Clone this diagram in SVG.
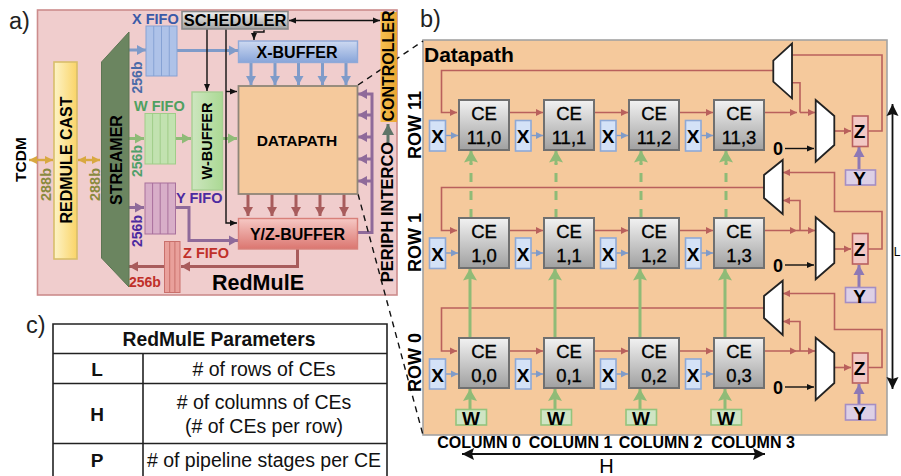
<svg xmlns="http://www.w3.org/2000/svg" width="901" height="476" viewBox="0 0 901 476">
<style>
text{font-family:"Liberation Sans",Arial,sans-serif;fill:#000}
.b{font-weight:bold}
.m{text-anchor:middle}
.ce{fill:url(#gCE);stroke:#707070;stroke-width:2}
.ct{font-size:18.5px;text-anchor:middle;stroke:#000;stroke-width:.35}
.x{fill:#d4e2f7;stroke:#8ea9d6;stroke-width:1.6}
.w{fill:#cfe5c4;stroke:#93c47d;stroke-width:1.6}
.y{fill:#ddd0e6;stroke:#a48ec4;stroke-width:1.6}
.z{fill:#f2c8c4;stroke:#b86060;stroke-width:1.6}
.lt{font-weight:bold;font-size:19px;text-anchor:middle}
.mux{fill:#fff;stroke:#222;stroke-width:1.8}
.r{stroke:#b9605c;stroke-width:1.6;fill:none}
.rb{stroke:#a85c5c;stroke-width:3;fill:none}
.bl{stroke:#7f9bc9;stroke-width:1.4;fill:none}
.bb{stroke:#7f9bc9;stroke-width:3;fill:none}
.gb{stroke:#8fbb77;stroke-width:3;fill:none}
.gd{stroke:#8fbb77;stroke-width:3;fill:none;stroke-dasharray:9 9}
.pb{stroke:#8f6a9a;stroke-width:3;fill:none}
.py{stroke:#8d78b5;stroke-width:3;fill:none}
.k{stroke:#111;stroke-width:1.4;fill:none}
.kb{stroke:#111;stroke-width:1.8;fill:none}
.yl{stroke:#d9a840;stroke-width:2.4;fill:none}
.ds{stroke:#111;stroke-width:1.4;fill:none;stroke-dasharray:6 5}
.tb{fill:none;stroke:#222;stroke-width:1.6}
.tt{font-size:19.5px;text-anchor:middle;fill:#111}
.tk{font-weight:bold;font-size:19px;text-anchor:middle;fill:#111}
.col{font-weight:bold;font-size:16px;text-anchor:middle}
.row{font-weight:bold;font-size:18px;text-anchor:middle}
.pl{font-size:23.5px;fill:#222}
</style>
<defs>
<linearGradient id="gCE" x1="0" y1="0" x2="0" y2="1"><stop offset="0" stop-color="#f2f2f2"/><stop offset="1" stop-color="#a0a0a0"/></linearGradient>
<linearGradient id="gCast" x1="0" y1="0" x2="1" y2="0"><stop offset="0" stop-color="#fdf3c6"/><stop offset="1" stop-color="#fad468"/></linearGradient>
<linearGradient id="gXB" x1="0" y1="0" x2="0" y2="1"><stop offset="0" stop-color="#cdd9f1"/><stop offset="1" stop-color="#88a5d9"/></linearGradient>
<linearGradient id="gYB" x1="0" y1="0" x2="0" y2="1"><stop offset="0" stop-color="#f6c8c4"/><stop offset="1" stop-color="#db7670"/></linearGradient>
<linearGradient id="gWB" x1="0" y1="0" x2="1" y2="0"><stop offset="0" stop-color="#cde6bf"/><stop offset="1" stop-color="#abd994"/></linearGradient>
<linearGradient id="gCtl" x1="0" y1="0" x2="1" y2="0"><stop offset="0" stop-color="#f7c04f"/><stop offset="1" stop-color="#eaa532"/></linearGradient>
<marker id="mr" markerUnits="userSpaceOnUse" markerWidth="8" markerHeight="8" refX="7" refY="4" orient="auto"><path d="M0 .5L7 4L0 7.5Z" fill="#b9605c"/></marker>
<marker id="mbl" markerUnits="userSpaceOnUse" markerWidth="8" markerHeight="8" refX="7" refY="4" orient="auto"><path d="M0 .5L7 4L0 7.5Z" fill="#7f9bc9"/></marker>
<marker id="mk" markerUnits="userSpaceOnUse" markerWidth="8" markerHeight="8" refX="7" refY="4" orient="auto-start-reverse"><path d="M0 1L7 4L0 7Z" fill="#111"/></marker>
<marker id="mkb" markerUnits="userSpaceOnUse" markerWidth="14" markerHeight="14" refX="12" refY="7" orient="auto-start-reverse"><path d="M0 1L12 7L0 13L2 7Z" fill="#111"/></marker>
<marker id="my" markerUnits="userSpaceOnUse" markerWidth="9" markerHeight="9" refX="8" refY="4.5" orient="auto-start-reverse"><path d="M0 .5L8 4.5L0 8.5Z" fill="#d9a840"/></marker>
<marker id="mbb" markerUnits="userSpaceOnUse" markerWidth="10" markerHeight="12" refX="9" refY="6" orient="auto"><path d="M0 1L9 6L0 11Z" fill="#7f9bc9"/></marker>
<marker id="mrb" markerUnits="userSpaceOnUse" markerWidth="10" markerHeight="12" refX="9" refY="6" orient="auto"><path d="M0 1L9 6L0 11Z" fill="#a85c5c"/></marker>
<marker id="mgb" markerUnits="userSpaceOnUse" markerWidth="10" markerHeight="12" refX="9" refY="6" orient="auto"><path d="M0 1L9 6L0 11Z" fill="#8fbb77"/></marker>
<marker id="mpb" markerUnits="userSpaceOnUse" markerWidth="10" markerHeight="12" refX="9" refY="6" orient="auto"><path d="M0 1L9 6L0 11Z" fill="#8f6a9a"/></marker>
<marker id="mpy" markerUnits="userSpaceOnUse" markerWidth="11" markerHeight="12" refX="10" refY="6" orient="auto"><path d="M0 .5L10 6L0 11.5Z" fill="#8d78b5"/></marker>
<marker id="mgy" markerUnits="userSpaceOnUse" markerWidth="12" markerHeight="13" refX="11" refY="6.5" orient="auto"><path d="M0 .5L11 6.5L0 12.5Z" fill="#5f7468"/></marker>
<marker id="mgg" markerUnits="userSpaceOnUse" markerWidth="13" markerHeight="15" refX="12" refY="7.5" orient="auto"><path d="M0 .5L12 7.5L0 14.5L2 7.5Z" fill="#8fbb77"/></marker>
</defs>

<rect id="panel-a" x="37.5" y="10" width="359.5" height="285" fill="#f0cdcd" stroke="#cc8c8c" stroke-width="1.6"/>
<rect id="panel-b" x="423" y="40" width="464" height="395" fill="#f5c99c" stroke="#a3a3a3" stroke-width="1.6"/>

<g id="connectors">
<path class="yl" d="M29 160H53" marker-start="url(#my)" marker-end="url(#my)"/>
<path class="yl" d="M78 160H100" marker-start="url(#my)" marker-end="url(#my)"/>
<path class="bb" d="M129 50H146" marker-end="url(#mbb)"/>
<path class="bb" d="M177 50.5H238" marker-end="url(#mbb)"/>
<path class="gb" d="M129 138.5H144" marker-end="url(#mgb)"/>
<path class="gb" d="M176 138.5H191" marker-end="url(#mgb)"/>
<path class="gb" d="M222 138.5H237" marker-end="url(#mgb)"/>
<path class="pb" d="M129 207.5H144" marker-end="url(#mpb)"/>
<path class="pb" d="M176 207.5H189V240.5H238" marker-end="url(#mpb)"/>
<path class="rb" d="M297.5 249V266.5H181" marker-end="url(#mrb)"/>
<path class="rb" d="M164 266.5H129" marker-end="url(#mrb)"/>
<path class="pb" d="M358 232.5H372V94H358" marker-end="url(#mpb)"/>
<path class="pb" d="M372 115H358" marker-end="url(#mpb)"/>
<path class="pb" d="M372 137H358" marker-end="url(#mpb)"/>
<path class="pb" d="M372 159H358" marker-end="url(#mpb)"/>
<path class="pb" d="M372 181H358" marker-end="url(#mpb)"/>
<path class="rb" d="M248 194V216" marker-end="url(#mrb)"/>
<path class="rb" d="M272 194V216" marker-end="url(#mrb)"/>
<path class="rb" d="M296 194V216" marker-end="url(#mrb)"/>
<path class="rb" d="M320 194V216" marker-end="url(#mrb)"/>
<path class="rb" d="M344 194V216" marker-end="url(#mrb)"/>
<path class="bb" d="M251 62V85" marker-end="url(#mbb)"/>
<path class="bb" d="M275 62V85" marker-end="url(#mbb)"/>
<path class="bb" d="M298.5 62V85" marker-end="url(#mbb)"/>
<path class="bb" d="M322.5 62V85" marker-end="url(#mbb)"/>
<path class="bb" d="M346 62V85" marker-end="url(#mbb)"/>
<path class="k" d="M207 29V91" marker-end="url(#mk)"/>
<path class="k" d="M226 29V223H237" marker-end="url(#mk)"/>
<path class="k" d="M226 91.5H237" marker-end="url(#mk)"/>
<path class="k" d="M264 29.5V32H254V40" marker-end="url(#mk)"/>
<path class="k" d="M289 20.5H380" marker-start="url(#mk)" marker-end="url(#mk)"/>
<path d="M388 144V124" stroke="#5f7468" stroke-width="3" fill="none" marker-end="url(#mgy)"/>
<path class="ds" d="M358 85L423 41"/>
<path class="ds" d="M358 194L423 435"/>

<path class="r" d="M773 70.5H441.5V112.5H457" marker-end="url(#mr)"/>
<path class="r" d="M509.5 112.5H543" marker-end="url(#mr)"/>
<path class="r" d="M594.5 112.5H628" marker-end="url(#mr)"/>
<path class="r" d="M679.5 112.5H713" marker-end="url(#mr)"/>
<path class="r" d="M764 112.5H797" marker-end="url(#mr)"/>
<path class="r" d="M800 112.5H815" marker-end="url(#mr)"/>
<path class="r" d="M800 112.5V82.7H792"/>
<path class="r" d="M834.5 131H851" marker-end="url(#mr)"/>
<path class="r" d="M868 131H882V55H792"/>

<path class="r" d="M764 187.5H441.5V230.5H457" marker-end="url(#mr)"/>
<path class="r" d="M509.5 230.5H543" marker-end="url(#mr)"/>
<path class="r" d="M594.5 230.5H628" marker-end="url(#mr)"/>
<path class="r" d="M679.5 230.5H713" marker-end="url(#mr)"/>
<path class="r" d="M764 230.5H797" marker-end="url(#mr)"/>
<path class="r" d="M797 230.5H815" marker-end="url(#mr)"/>
<path class="r" d="M800 230.5V200.5H783" marker-end="url(#mr)"/>
<path class="r" d="M834.5 249H851" marker-end="url(#mr)"/>
<path class="r" d="M868 249H882V211.5H834.5V172.5H783" marker-end="url(#mr)"/>

<path class="r" d="M764 308H441.5V351H457" marker-end="url(#mr)"/>
<path class="r" d="M509.5 351H543" marker-end="url(#mr)"/>
<path class="r" d="M594.5 351H628" marker-end="url(#mr)"/>
<path class="r" d="M679.5 351H713" marker-end="url(#mr)"/>
<path class="r" d="M764 351H797" marker-end="url(#mr)"/>
<path class="r" d="M797 351H815" marker-end="url(#mr)"/>
<path class="r" d="M800 351V321.5H783" marker-end="url(#mr)"/>
<path class="r" d="M834.5 367.5H851" marker-end="url(#mr)"/>
<path class="r" d="M868 367.5H882V329.5H834.5V293.5H783" marker-end="url(#mr)"/>

<path class="bl" d="M446 135.5H458" marker-end="url(#mbl)"/>
<path class="bl" d="M531 135.5H543" marker-end="url(#mbl)"/>
<path class="bl" d="M616 135.5H628" marker-end="url(#mbl)"/>
<path class="bl" d="M701 135.5H713" marker-end="url(#mbl)"/>
<path class="bl" d="M446 253H458" marker-end="url(#mbl)"/>
<path class="bl" d="M531 253H543" marker-end="url(#mbl)"/>
<path class="bl" d="M616 253H628" marker-end="url(#mbl)"/>
<path class="bl" d="M701 253H713" marker-end="url(#mbl)"/>
<path class="bl" d="M446 374H458" marker-end="url(#mbl)"/>
<path class="bl" d="M531 374H543" marker-end="url(#mbl)"/>
<path class="bl" d="M616 374H628" marker-end="url(#mbl)"/>
<path class="bl" d="M701 374H713" marker-end="url(#mbl)"/>

<path class="gb" d="M470 409V389" marker-end="url(#mgg)"/>
<path class="gb" d="M555 409V389" marker-end="url(#mgg)"/>
<path class="gb" d="M640 409V389" marker-end="url(#mgg)"/>
<path class="gb" d="M725 409V389" marker-end="url(#mgg)"/>
<path class="gb" d="M470 338V268.5" marker-end="url(#mgg)"/>
<path class="gb" d="M555 338V268.5" marker-end="url(#mgg)"/>
<path class="gb" d="M640 338V268.5" marker-end="url(#mgg)"/>
<path class="gb" d="M725 338V268.5" marker-end="url(#mgg)"/>
<path class="gd" d="M471 218V163"/><path class="gd" d="M556 218V163"/><path class="gd" d="M641 218V163"/><path class="gd" d="M726 218V163"/>
<path class="gb" d="M471 165V150.5" marker-end="url(#mgg)"/>
<path class="gb" d="M556 165V150.5" marker-end="url(#mgg)"/>
<path class="gb" d="M641 165V150.5" marker-end="url(#mgg)"/>
<path class="gb" d="M726 165V150.5" marker-end="url(#mgg)"/>

<path class="k" d="M785 148.5H814" marker-end="url(#mk)"/>
<path class="k" d="M785 265H814" marker-end="url(#mk)"/>
<path class="k" d="M785 387H814" marker-end="url(#mk)"/>
<path class="py" d="M859 169V147" marker-end="url(#mpy)"/>
<path class="py" d="M859 287V265" marker-end="url(#mpy)"/>
<path class="py" d="M859 404V384" marker-end="url(#mpy)"/>
<path class="kb" d="M892.5 104V389" marker-start="url(#mkb)" marker-end="url(#mkb)"/>
<path class="kb" d="M462 454H765" marker-start="url(#mkb)" marker-end="url(#mkb)"/>
</g>

<g id="redmule-cast"><rect x="54" y="62" width="23" height="197" fill="url(#gCast)" stroke="#d9be6b" stroke-width="1.6"/><text class="b m" font-size="16" transform="translate(72 160) rotate(-90)">REDMULE CAST</text></g>
<g id="streamer"><polygon points="101.5,62 129,32 129,287 101.5,258" fill="#6b8560" stroke="#5d7553"/><text class="b m" font-size="16" transform="translate(121.5 160) rotate(-90)">STREAMER</text></g>
<g id="x-fifo"><rect x="146" y="26" width="31" height="50" fill="#aec2e8" stroke="#86a2d4"/><path d="M153.75 26V76M161.5 26V76M169.25 26V76" stroke="#86a2d4" fill="none"/></g>
<g id="w-fifo"><rect x="145" y="113.5" width="30.5" height="50.5" fill="#c2e2b0" stroke="#a0cd88"/><path d="M152.6 113.5V164M160.2 113.5V164M167.9 113.5V164" stroke="#a0cd88" fill="none"/></g>
<g id="y-fifo"><rect x="145" y="183" width="30.5" height="51" fill="#d8aec8" stroke="#a8709c"/><path d="M152.6 183V234M160.2 183V234M167.9 183V234" stroke="#a8709c" fill="none"/></g>
<g id="z-fifo"><rect x="164.5" y="241.5" width="15.5" height="51" fill="#e9a09b" stroke="#c9706c"/><path d="M169.7 241.5V292.5M174.9 241.5V292.5" stroke="#c9706c" fill="none"/></g>
<g id="scheduler"><rect x="182" y="11.5" width="106" height="17.5" fill="url(#gCE)" stroke="#8a8a8a" stroke-width="1.6"/><text class="b m" x="235" y="26" font-size="16.5">SCHEDULER</text></g>
<g id="x-buffer"><rect x="238.5" y="41" width="119" height="21.5" fill="url(#gXB)" stroke="#8fa9d8" stroke-width="1.4"/><text class="b m" x="297" y="57.5" font-size="16">X-BUFFER</text></g>
<g id="w-buffer"><rect x="192" y="92" width="30.5" height="98" fill="url(#gWB)" stroke="#a7cf93" stroke-width="1.4"/><text class="b m" font-size="14.5" transform="translate(212 141) rotate(-90)">W-BUFFER</text></g>
<g id="datapath"><rect x="238.5" y="86" width="119" height="108" fill="#f5c99c" stroke="#8f8678" stroke-width="1.8"/><text class="b m" x="297" y="146" font-size="15.5">DATAPATH</text></g>
<g id="yz-buffer"><rect x="238.5" y="218.5" width="119" height="30.5" fill="url(#gYB)" stroke="#d8807a" stroke-width="1.4"/><text class="b m" x="297.5" y="240" font-size="16">Y/Z-BUFFER</text></g>
<g id="controller"><rect x="380.5" y="12" width="16.5" height="110" fill="url(#gCtl)"/><text class="b m" font-size="16" transform="translate(394 66) rotate(-90)">CONTROLLER</text></g>
<g id="periph-interco"><text class="b m" font-size="16.5" transform="translate(393 212) rotate(-90)">PERIPH INTERCO</text></g>

<g id="a-labels">
<text class="pl" x="9" y="29">a)</text>
<text class="b m" font-size="15.5" transform="translate(26 159.5) rotate(-90)">TCDM</text>
<text class="b m" font-size="14.5" style="fill:#8a8a3f" transform="translate(50.5 184.5) rotate(-90)">288b</text>
<text class="b m" font-size="14.5" style="fill:#8a8a3f" transform="translate(100 184.5) rotate(-90)">288b</text>
<text class="b m" font-size="14" style="fill:#4a6aa8" transform="translate(142 77.5) rotate(-90)">256b</text>
<text class="b m" font-size="14" style="fill:#4fa06a" transform="translate(142 161) rotate(-90)">256b</text>
<text class="b m" font-size="14" style="fill:#4b2aa0" transform="translate(142 231) rotate(-90)">256b</text>
<text class="b" x="129" y="287" font-size="14" style="fill:#c0302a">256b</text>
<text class="b" x="132" y="24" font-size="14.5" style="fill:#3a5aa8">X FIFO</text>
<text class="b" x="134" y="111" font-size="14.5" style="fill:#4fa060">W FIFO</text>
<text class="b" x="176" y="203" font-size="14.5" style="fill:#4b2aa0">Y FIFO</text>
<text class="b" x="183" y="258" font-size="14.5" style="fill:#c0302a">Z FIFO</text>
<text class="b" x="212" y="289.5" font-size="21.5">RedMulE</text>
</g>

<g id="b-labels">
<text class="pl" x="420" y="27">b)</text>
<text class="b" x="424" y="61.5" font-size="21">Datapath</text>
<text class="row" transform="translate(420.5 125) rotate(-90)">ROW 11</text>
<text class="row" transform="translate(420.5 242.5) rotate(-90)">ROW 1</text>
<text class="row" transform="translate(420.5 362.5) rotate(-90)">ROW 0</text>
<text class="col" x="479" y="448">COLUMN 0</text>
<text class="col" x="570.5" y="448">COLUMN 1</text>
<text class="col" x="660.5" y="448">COLUMN 2</text>
<text class="col" x="753" y="448">COLUMN 3</text>
<text class="m" x="606.5" y="473" font-size="20">H</text>
<text x="893.8" y="256" font-size="12">L</text>
<text class="b m" x="778" y="155" font-size="18">0</text>
<text class="b m" x="778" y="271.5" font-size="18">0</text>
<text class="b m" x="778" y="393.5" font-size="18">0</text>
</g>

<g id="ce-11-0"><rect class="ce" x="459" y="100" width="50" height="50"/><text class="ct" x="484" y="120">CE</text><text class="ct" x="484" y="144">11,0</text></g>
<g id="ce-11-1"><rect class="ce" x="544" y="100" width="50" height="50"/><text class="ct" x="569" y="120">CE</text><text class="ct" x="569" y="144">11,1</text></g>
<g id="ce-11-2"><rect class="ce" x="629" y="100" width="50" height="50"/><text class="ct" x="654" y="120">CE</text><text class="ct" x="654" y="144">11,2</text></g>
<g id="ce-11-3"><rect class="ce" x="714" y="100" width="50" height="50"/><text class="ct" x="739" y="120">CE</text><text class="ct" x="739" y="144">11,3</text></g>
<g id="ce-1-0"><rect class="ce" x="459" y="218" width="50" height="50"/><text class="ct" x="484" y="238">CE</text><text class="ct" x="484" y="262">1,0</text></g>
<g id="ce-1-1"><rect class="ce" x="544" y="218" width="50" height="50"/><text class="ct" x="569" y="238">CE</text><text class="ct" x="569" y="262">1,1</text></g>
<g id="ce-1-2"><rect class="ce" x="629" y="218" width="50" height="50"/><text class="ct" x="654" y="238">CE</text><text class="ct" x="654" y="262">1,2</text></g>
<g id="ce-1-3"><rect class="ce" x="714" y="218" width="50" height="50"/><text class="ct" x="739" y="238">CE</text><text class="ct" x="739" y="262">1,3</text></g>
<g id="ce-0-0"><rect class="ce" x="459" y="338" width="50" height="50"/><text class="ct" x="484" y="358">CE</text><text class="ct" x="484" y="382">0,0</text></g>
<g id="ce-0-1"><rect class="ce" x="544" y="338" width="50" height="50"/><text class="ct" x="569" y="358">CE</text><text class="ct" x="569" y="382">0,1</text></g>
<g id="ce-0-2"><rect class="ce" x="629" y="338" width="50" height="50"/><text class="ct" x="654" y="358">CE</text><text class="ct" x="654" y="382">0,2</text></g>
<g id="ce-0-3"><rect class="ce" x="714" y="338" width="50" height="50"/><text class="ct" x="739" y="358">CE</text><text class="ct" x="739" y="382">0,3</text></g>

<g id="x-11-0"><rect class="x" x="429.5" y="120.5" width="16" height="30.5"/><text class="lt" x="437.5" y="143">X</text></g>
<g id="x-11-1"><rect class="x" x="515.5" y="120.5" width="15.5" height="30.5"/><text class="lt" x="523" y="143">X</text></g>
<g id="x-11-2"><rect class="x" x="600.5" y="120.5" width="15.5" height="30.5"/><text class="lt" x="608" y="143">X</text></g>
<g id="x-11-3"><rect class="x" x="685.5" y="120.5" width="15.5" height="30.5"/><text class="lt" x="693" y="143">X</text></g>
<g id="x-1-0"><rect class="x" x="429.5" y="238" width="16" height="30.5"/><text class="lt" x="437.5" y="260.5">X</text></g>
<g id="x-1-1"><rect class="x" x="515.5" y="238" width="15.5" height="30.5"/><text class="lt" x="523" y="260.5">X</text></g>
<g id="x-1-2"><rect class="x" x="600.5" y="238" width="15.5" height="30.5"/><text class="lt" x="608" y="260.5">X</text></g>
<g id="x-1-3"><rect class="x" x="685.5" y="238" width="15.5" height="30.5"/><text class="lt" x="693" y="260.5">X</text></g>
<g id="x-0-0"><rect class="x" x="429.5" y="359" width="16" height="30"/><text class="lt" x="437.5" y="381.5">X</text></g>
<g id="x-0-1"><rect class="x" x="515.5" y="359" width="15.5" height="30"/><text class="lt" x="523" y="381.5">X</text></g>
<g id="x-0-2"><rect class="x" x="600.5" y="359" width="15.5" height="30"/><text class="lt" x="608" y="381.5">X</text></g>
<g id="x-0-3"><rect class="x" x="685.5" y="359" width="15.5" height="30"/><text class="lt" x="693" y="381.5">X</text></g>

<g id="w-0"><rect class="w" x="456" y="409.5" width="30.5" height="15.5"/><text class="lt" x="471" y="425">W</text></g>
<g id="w-1"><rect class="w" x="541" y="409.5" width="30.5" height="15.5"/><text class="lt" x="556" y="425">W</text></g>
<g id="w-2"><rect class="w" x="626" y="409.5" width="30.5" height="15.5"/><text class="lt" x="641" y="425">W</text></g>
<g id="w-3"><rect class="w" x="711" y="409.5" width="30.5" height="15.5"/><text class="lt" x="726" y="425">W</text></g>

<g id="mux-11-up"><polygon class="mux" points="773.3,60.7 792,43.5 792,98.3 773.3,81.7"/></g>
<g id="mux-1-up"><polygon class="mux" points="764,175 782.7,160 782.7,214 764,198"/></g>
<g id="mux-0-up"><polygon class="mux" points="764,296 782.7,280.7 782.7,335 764,318"/></g>
<g id="mux-11"><polygon class="mux" points="815.7,100 834.3,116 834.3,145 815.7,161.7"/></g>
<g id="mux-1"><polygon class="mux" points="815.7,217.3 834.3,233 834.3,263 815.7,279.3"/></g>
<g id="mux-0"><polygon class="mux" points="815.7,337.7 834.3,353 834.3,383 815.7,400"/></g>

<g id="z-11"><rect class="z" x="852.5" y="116" width="15.5" height="30.5"/><text class="lt" x="859.5" y="138">Z</text></g>
<g id="z-1"><rect class="z" x="852.5" y="233.5" width="15.5" height="30.5"/><text class="lt" x="859.5" y="256">Z</text></g>
<g id="z-0"><rect class="z" x="852.5" y="353" width="15.5" height="30"/><text class="lt" x="859.5" y="375">Z</text></g>
<g id="y-11"><rect class="y" x="845.5" y="170" width="30" height="15"/><text class="lt" x="859.5" y="185">Y</text></g>
<g id="y-1"><rect class="y" x="845.5" y="287.5" width="30" height="15"/><text class="lt" x="859.5" y="302.5">Y</text></g>
<g id="y-0"><rect class="y" x="845.5" y="404.5" width="30" height="15.5"/><text class="lt" x="859.5" y="420">Y</text></g>

<g id="parameters-table">
<text class="pl" x="26" y="333">c)</text>
<path class="tb" d="M53 480V324H387V480M53 353.5H387M53 383.5H387M53 443.5H387M143 353.5V480"/>
<text class="b m" x="219" y="345.7" font-size="19.3" style="fill:#111">RedMulE Parameters</text>
<text class="tk" x="97" y="375.7">L</text>
<text class="tk" x="97" y="420.7">H</text>
<text class="tk" x="97" y="466.7">P</text>
<text class="tt" x="264" y="375.7"># of rows of CEs</text>
<text class="tt" x="264" y="409"># of columns of CEs</text>
<text class="tt" x="264" y="433">(# of CEs per row)</text>
<text class="tt" x="264" y="466.7"># of pipeline stages per CE</text>
</g>
</svg>
